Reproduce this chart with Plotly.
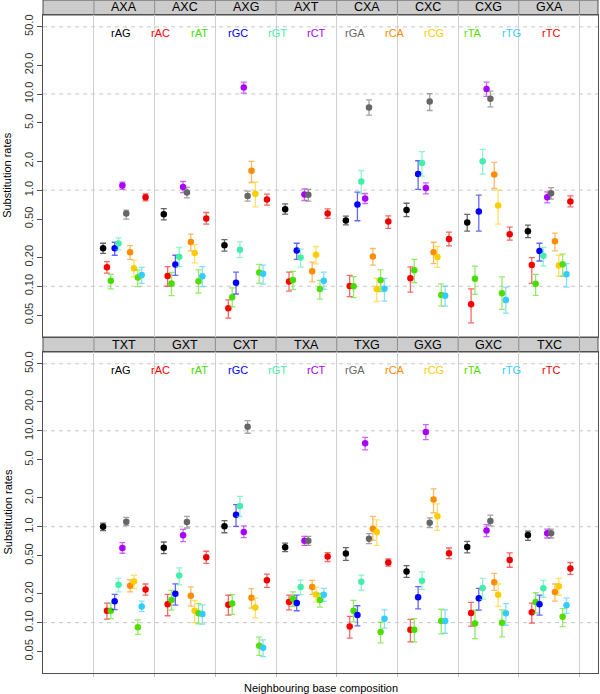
import numpy as np
import plotly.graph_objects as go

# ---------------- data ----------------
subs = ["rAG", "rAC", "rAT", "rGC", "rGT", "rCT", "rGA", "rCA", "rCG", "rTA", "rTG", "rTC"]
sub_colors = ["#000000", "#FF0000", "#44DD00", "#0000FF", "#44EEAA", "#AA00FF",
              "#666666", "#FF8C00", "#FFCC00", "#55DD00", "#33CCFF", "#EE0000"]

top_groups = ["AXA", "AXC", "AXG", "AXT", "CXA", "CXC", "CXG", "GXA"]
bottom_groups = ["TXT", "GXT", "CXT", "TXA", "TXG", "GXG", "GXC", "TXC"]

y_ticks = [0.05, 0.1, 0.2, 0.5, 1, 2, 5, 10, 20, 50]
y_tick_labels = ["0.05", "0.10", "0.20", "0.50", "1.0", "2.0", "5.0", "10.0", "20.0", "50.0"]
ref_lines = [0.1, 1, 10, 50]

# rows = groups, columns = substitution types (order of `subs`)
top_rate = [
    [0.249, 0.158, 0.114, 0.249, 0.278, 1.12, 0.57, 0.226, 0.154, 0.123, 0.131, 0.845],
    [0.562, 0.128, 0.107, 0.168, 0.203, 1.08, 0.944, 0.289, 0.222, 0.113, 0.127, 0.506],
    [0.267, 0.059, 0.077, 0.109, 0.24, 11.7, 0.87, 1.59, 0.915, 0.139, 0.135, 0.798],
    [0.634, 0.112, 0.116, 0.235, 0.199, 0.90, 0.893, 0.143, 0.213, 0.0937, 0.114, 0.571],
    [0.483, 0.1007, 0.10, 0.708, 1.23, 0.818, 7.25, 0.204, 0.0937, 0.1155, 0.0944, 0.471],
    [0.623, 0.121, 0.147, 1.47, 1.92, 1.05, 8.37, 0.226, 0.202, 0.0813, 0.0798, 0.311],
    [0.46, 0.065, 0.12, 0.599, 2.0, 11.3, 8.93, 1.45, 0.69, 0.0845, 0.072, 0.348],
    [0.374, 0.166, 0.1064, 0.232, 0.207, 0.845, 0.93, 0.294, 0.164, 0.169, 0.133, 0.761],
]
top_low = [
    [0.22, 0.137, 0.094, 0.21, 0.239, 1.02, 0.50, 0.19, 0.126, 0.099, 0.107, 0.774],
    [0.49, 0.10, 0.08, 0.13, 0.16, 0.94, 0.83, 0.233, 0.175, 0.085, 0.099, 0.443],
    [0.232, 0.0465, 0.061, 0.083, 0.198, 10.2, 0.768, 1.2, 0.67, 0.108, 0.105, 0.698],
    [0.562, 0.089, 0.092, 0.19, 0.158, 0.78, 0.77, 0.111, 0.171, 0.0734, 0.093, 0.51],
    [0.435, 0.078, 0.076, 0.48, 0.915, 0.726, 6.04, 0.166, 0.0694, 0.088, 0.07, 0.40],
    [0.53, 0.087, 0.109, 1.02, 1.40, 0.915, 6.74, 0.172, 0.157, 0.062, 0.062, 0.263],
    [0.374, 0.0416, 0.0824, 0.374, 1.47, 9.44, 7.33, 1.04, 0.443, 0.0575, 0.0525, 0.302],
    [0.32, 0.107, 0.0805, 0.183, 0.162, 0.737, 0.806, 0.233, 0.127, 0.127, 0.098, 0.67],
]
top_high = [
    [0.28, 0.18, 0.133, 0.287, 0.318, 1.21, 0.62, 0.265, 0.187, 0.148, 0.157, 0.915],
    [0.643, 0.16, 0.139, 0.21, 0.253, 1.23, 1.07, 0.348, 0.271, 0.148, 0.16, 0.585],
    [0.306, 0.072, 0.096, 0.14, 0.29, 13.3, 0.976, 1.99, 1.21, 0.169, 0.166, 0.909],
    [0.72, 0.14, 0.143, 0.28, 0.243, 1.03, 1.02, 0.178, 0.259, 0.115, 0.14, 0.638],
    [0.536, 0.13, 0.126, 0.953, 1.6, 0.922, 8.7, 0.247, 0.121, 0.148, 0.121, 0.54],
    [0.73, 0.159, 0.19, 2.02, 2.52, 1.19, 10.1, 0.287, 0.259, 0.106, 0.10, 0.365],
    [0.56, 0.094, 0.162, 0.887, 2.65, 13.3, 10.7, 1.94, 1.0, 0.125, 0.098, 0.412],
    [0.432, 0.198, 0.133, 0.28, 0.253, 0.96, 1.06, 0.357, 0.21, 0.216, 0.172, 0.87],
]

bottom_rate = [
    [1.0, 0.133, 0.133, 0.167, 0.248, 0.60, 1.13, 0.242, 0.269, 0.0898, 0.147, 0.222],
    [0.605, 0.156, 0.172, 0.20, 0.31, 0.813, 1.12, 0.191, 0.133, 0.125, 0.123, 0.48],
    [1.01, 0.154, 0.158, 1.33, 1.65, 0.88, 11.0, 0.182, 0.144, 0.0575, 0.0548, 0.276],
    [0.61, 0.164, 0.177, 0.16, 0.235, 0.716, 0.716, 0.235, 0.197, 0.172, 0.195, 0.489],
    [0.525, 0.0912, 0.133, 0.12, 0.267, 7.42, 0.751, 0.953, 0.88, 0.0797, 0.11, 0.424],
    [0.342, 0.0842, 0.0845, 0.184, 0.273, 9.72, 1.1, 1.92, 1.29, 0.104, 0.104, 0.529],
    [0.615, 0.126, 0.098, 0.18, 0.23, 0.915, 1.15, 0.263, 0.195, 0.10, 0.125, 0.451],
    [0.819, 0.128, 0.164, 0.156, 0.228, 0.853, 0.853, 0.209, 0.239, 0.115, 0.152, 0.367],
]
bottom_low = [
    [0.909, 0.109, 0.11, 0.137, 0.209, 0.529, 1.03, 0.209, 0.226, 0.0756, 0.13, 0.194],
    [0.525, 0.118, 0.135, 0.152, 0.248, 0.699, 0.97, 0.149, 0.10, 0.097, 0.0965, 0.414],
    [0.866, 0.12, 0.122, 1.01, 1.28, 0.77, 9.44, 0.142, 0.112, 0.0455, 0.0443, 0.233],
    [0.551, 0.136, 0.148, 0.133, 0.196, 0.64, 0.64, 0.197, 0.164, 0.145, 0.167, 0.434],
    [0.445, 0.069, 0.102, 0.0925, 0.219, 6.32, 0.667, 0.72, 0.64, 0.0614, 0.0876, 0.388],
    [0.296, 0.063, 0.063, 0.139, 0.222, 8.1, 0.98, 1.40, 0.915, 0.0762, 0.0775, 0.466],
    [0.533, 0.0921, 0.068, 0.135, 0.175, 0.788, 1.02, 0.217, 0.148, 0.071, 0.094, 0.378],
    [0.72, 0.099, 0.126, 0.12, 0.184, 0.763, 0.763, 0.168, 0.193, 0.091, 0.125, 0.318],
]
bottom_high = [
    [1.09, 0.16, 0.16, 0.197, 0.29, 0.683, 1.25, 0.28, 0.311, 0.107, 0.168, 0.253],
    [0.693, 0.197, 0.217, 0.254, 0.372, 0.937, 1.28, 0.236, 0.17, 0.158, 0.153, 0.555],
    [1.16, 0.193, 0.196, 1.70, 2.07, 1.02, 12.8, 0.226, 0.18, 0.0708, 0.066, 0.32],
    [0.676, 0.194, 0.209, 0.194, 0.278, 0.794, 0.794, 0.276, 0.233, 0.202, 0.228, 0.538],
    [0.606, 0.116, 0.171, 0.15, 0.313, 8.56, 0.846, 1.28, 1.18, 0.101, 0.136, 0.461],
    [0.394, 0.108, 0.11, 0.237, 0.339, 11.6, 1.24, 2.48, 1.73, 0.138, 0.136, 0.6],
    [0.704, 0.163, 0.135, 0.228, 0.29, 1.05, 1.32, 0.326, 0.253, 0.136, 0.158, 0.533],
    [0.9, 0.16, 0.205, 0.194, 0.276, 0.945, 0.945, 0.253, 0.29, 0.14, 0.18, 0.424],
]

# ---------------- layout geometry ----------------
W, H = 600, 694
M_L, M_R, M_T, M_B = 43, 2, 0, 21
PH = H - M_T - M_B            # plot area height in px


def py(px_from_top):
    return (PH - px_from_top) / PH


X_RANGE = [-0.84, 8.305]
Y_RANGE = [-1.525, 1.822]
top_dom = [py(336.7), py(15)]
bot_dom = [0, py(352)]
top_head = [py(15), 1.0]
bot_head = [py(352), py(337)]

STEP = 0.0636
FONT = "Liberation Sans, Arial, Helvetica, sans-serif"


def rgba(hexc, a):
    h = hexc.lstrip("#")
    return "rgba(%d,%d,%d,%.2f)" % (int(h[0:2], 16), int(h[2:4], 16), int(h[4:6], 16), a)


fig = go.Figure()

panels = [
    (top_groups, top_rate, top_low, top_high, "x", "y"),
    (bottom_groups, bottom_rate, bottom_low, bottom_high, "x2", "y2"),
]

for groups, rate, low, high, xa, ya in panels:
    # dashed reference lines
    for v in ref_lines:
        fig.add_trace(go.Scatter(
            x=X_RANGE, y=[v, v], mode="lines",
            line=dict(color="#C8C8C8", width=1, dash="4px,4px"),
            xaxis=xa, yaxis=ya, showlegend=False, hoverinfo="skip"))
    for k, (s, c) in enumerate(zip(subs, sub_colors)):
        xs = [g + 0.5 + (k - 5.5) * STEP for g in range(len(groups))]
        ys = [rate[g][k] for g in range(len(groups))]
        plus = [high[g][k] - rate[g][k] for g in range(len(groups))]
        minus = [rate[g][k] - low[g][k] for g in range(len(groups))]
        fig.add_trace(go.Scatter(
            x=xs, y=ys, mode="markers", name=s,
            marker=dict(color=c, size=6.5, line=dict(width=0)),
            error_y=dict(type="data", symmetric=False, array=plus, arrayminus=minus,
                         color=rgba(c, 0.6), thickness=1.3, width=3),
            xaxis=xa, yaxis=ya, showlegend=False))

axis_line = "#505050"
common_x = dict(range=X_RANGE, tickvals=list(range(9)), showticklabels=False,
                showgrid=True, gridcolor="#D0D0D0", gridwidth=1, zeroline=False,
                showline=True, mirror=True, linecolor=axis_line, linewidth=1,
                automargin=False, domain=[0, 1])
common_y = dict(type="log", range=Y_RANGE, tickvals=y_ticks, ticktext=y_tick_labels,
                tickangle=-90, ticks="outside", ticklen=5, tickcolor=axis_line,
                tickfont=dict(size=11, color="#333333", family=FONT),
                showgrid=False, zeroline=False, showline=True, mirror=True,
                linecolor=axis_line, linewidth=1, automargin=False)

fig.update_layout(
    width=W, height=H,
    margin=dict(l=M_L, r=M_R, t=M_T, b=M_B, pad=0),
    paper_bgcolor="white", plot_bgcolor="white",
    font=dict(family=FONT, size=11, color="#000000"),
    xaxis=dict(common_x, anchor="y", ticks=""),
    xaxis2=dict(common_x, anchor="y2", ticks="outside", ticklen=3, tickcolor="#BBBBBB"),
    yaxis=dict(common_y, domain=top_dom, anchor="x"),
    yaxis2=dict(common_y, domain=bot_dom, anchor="x2"),
)

shapes = []
annotations = []
label_y = np.log10(43.5)

for groups, head, dom, xa, ya in [(top_groups, top_head, top_dom, "x", "y"),
                                   (bottom_groups, bot_head, bot_dom, "x2", "y2")]:
    # strip header background
    shapes.append(dict(type="rect", xref="paper", yref="paper", x0=0, x1=1,
                       y0=head[0], y1=head[1], fillcolor="#CCCCCC",
                       line=dict(color=axis_line, width=1), layer="below"))
    for b in range(len(groups) + 1):
        shapes.append(dict(type="line", xref=xa, yref="paper", x0=b, x1=b,
                           y0=head[0], y1=head[1], line=dict(color="#8C8C8C", width=1)))
    for g, name in enumerate(groups):
        annotations.append(dict(text=name, xref=xa, yref="paper", x=g + 0.5,
                                y=(head[0] + head[1]) / 2, showarrow=False,
                                font=dict(size=12.5, color="#000000"),
                                xanchor="center", yanchor="middle"))
    # substitution type labels
    for k, (s, c) in enumerate(zip(subs, sub_colors)):
        annotations.append(dict(text=s, xref=xa, yref=ya, x=0.445 + k * 0.644,
                                y=label_y, showarrow=False,
                                font=dict(size=11, color=c),
                                xanchor="center", yanchor="middle"))
    # y-axis title
    annotations.append(dict(text="Substitution rates", xref="paper", yref="paper",
                            x=(7 - M_L) / (W - M_L - M_R), y=(dom[0] + dom[1]) / 2,
                            textangle=-90, showarrow=False, font=dict(size=11),
                            xanchor="center", yanchor="middle"))

annotations.append(dict(text="Neighbouring base composition", xref="paper", yref="paper",
                        x=0.5, y=0, yshift=-15, showarrow=False, font=dict(size=11),
                        xanchor="center", yanchor="middle"))

fig.update_layout(shapes=shapes, annotations=annotations)

fig.write_html("out.html",
               config={"displayModeBar": False},
               post_script="document.body.style.margin='0';document.body.style.padding='0';")
